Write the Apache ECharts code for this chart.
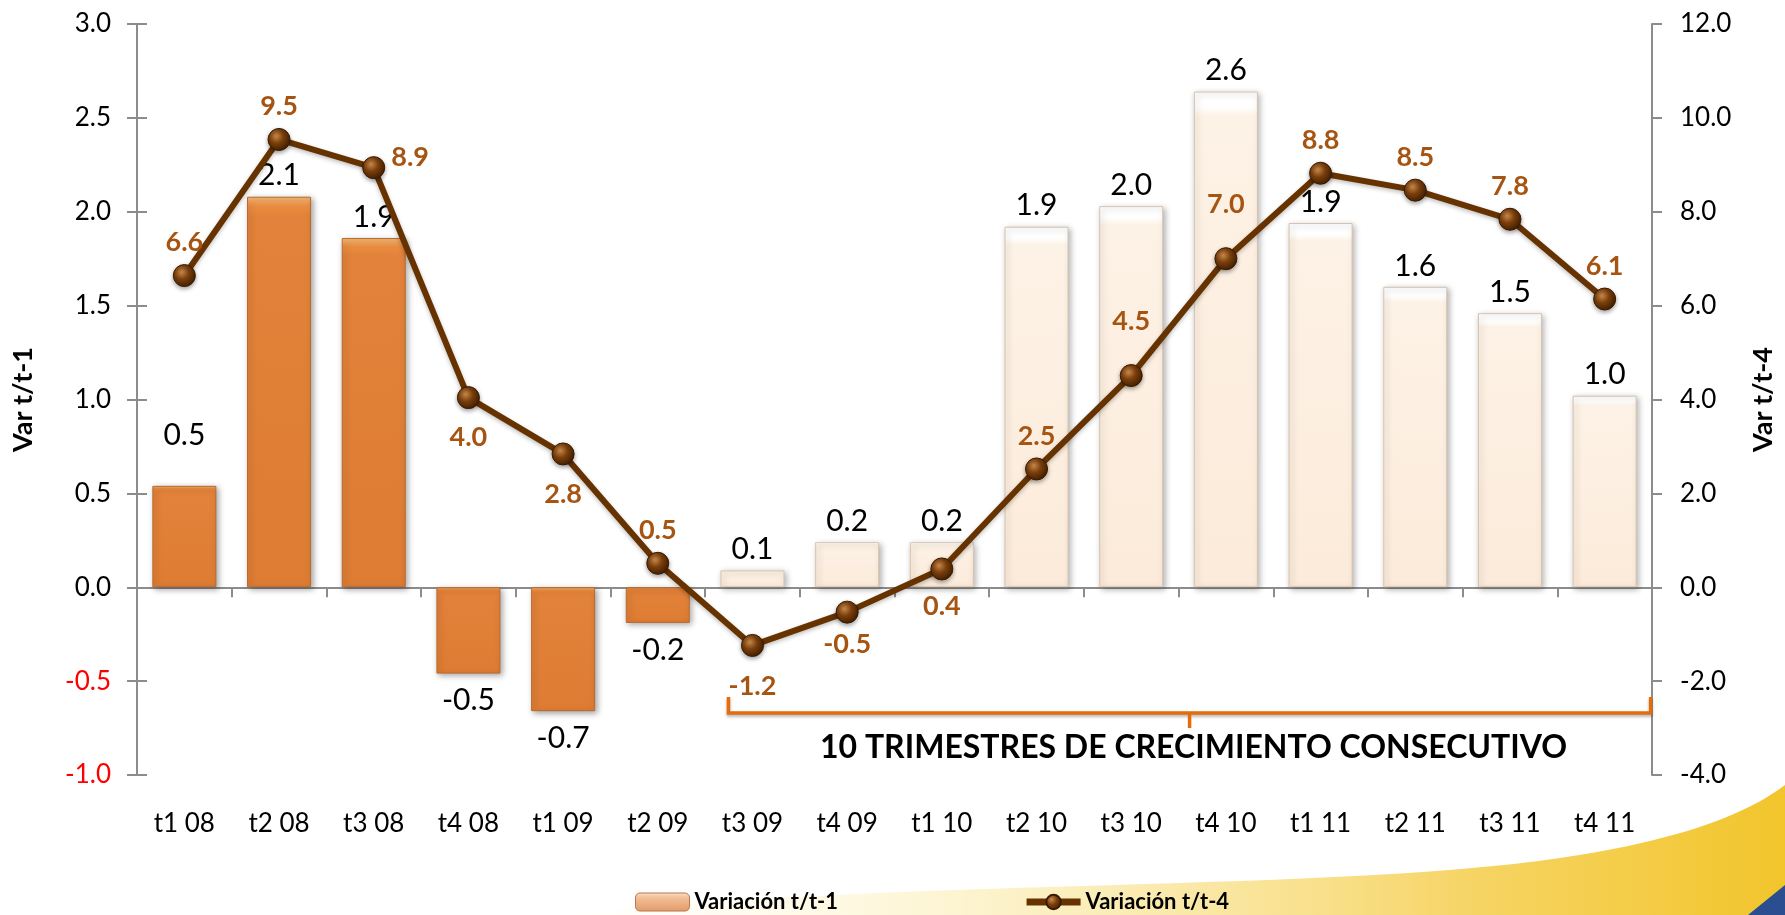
<!DOCTYPE html>
<html>
<head>
<meta charset="utf-8">
<script src="https://cdn.jsdelivr.net/npm/echarts@6/dist/echarts.min.js"></script>
<style>
  html, body { margin: 0; padding: 0; background: #fff; }
  #chart { width: 1785px; height: 915px; }
</style>
</head>
<body>
<div id="chart"></div>
<script>
// datos
const trimestres = ['t1 08', 't2 08', 't3 08', 't4 08', 't1 09', 't2 09', 't3 09', 't4 09',
                    't1 10', 't2 10', 't3 10', 't4 10', 't1 11', 't2 11', 't3 11', 't4 11'];
const variacionT1 = [0.54, 2.08, 1.86, -0.46, -0.66, -0.19, 0.09, 0.24,
                     0.24, 1.92, 2.03, 2.64, 1.94, 1.60, 1.46, 1.02];
const variacionT4 = [6.64, 9.54, 8.94, 4.04, 2.84, 0.51, -1.24, -0.53,
                     0.39, 2.52, 4.51, 7.00, 8.82, 8.46, 7.84, 6.14];
const ticksIzq = { min: -1, max: 3, interval: 0.5 };
const ticksDer = { min: -4, max: 12, interval: 2 };
const textoCrecimiento = '10 TRIMESTRES DE CRECIMIENTO CONSECUTIVO';

const FONT = 'Lato';
const crisisHasta = 6; // las barras naranjas: t1 08 .. t2 09

const naranja = {
  color: new echarts.graphic.LinearGradient(0, 0, 0, 1, [
    { offset: 0, color: '#F7BB78' }, { offset: 0.025, color: '#EA8C40' },
    { offset: 0.05, color: '#E3823A' }, { offset: 1, color: '#DE7C33' }]),
  borderColor: '#B86A2E', borderWidth: 1,
  shadowColor: 'rgba(0,0,0,0.35)', shadowBlur: 6, shadowOffsetX: 2, shadowOffsetY: 2
};
const crema = {
  color: new echarts.graphic.LinearGradient(0, 0, 0, 1, [
    { offset: 0, color: '#FFFFFF' }, { offset: 0.03, color: '#FFFFFF' },
    { offset: 0.05, color: '#FDF2E6' }, { offset: 1, color: '#FCEBDA' }]),
  borderColor: '#D9C3AE', borderWidth: 1,
  shadowColor: 'rgba(0,0,0,0.3)', shadowBlur: 6, shadowOffsetX: 2, shadowOffsetY: 2
};

// etiquetas de la linea: posicion y distancia
const posLinea = ['top', 'top', 'right', 'bottom', 'bottom', 'top', 'bottom', 'bottom',
                  'bottom', 'top', 'top', 'top', 'top', 'top', 'top', 'top'];
const distLinea = [8, 8, 6, 15, 15, 8, 16, 7, 12, 8, 29, 29, 8, 8, 8, 8];

const chart = echarts.init(document.getElementById('chart'));

const axisGray = '#8C8C8C';

chart.setOption({
  backgroundColor: '#fff',
  animation: false,
  grid: { left: 137, right: 127, top: 24, bottom: 140 },
  legend: {
    left: 630, top: 886,
    itemWidth: 54, itemHeight: 18, itemGap: 185,
    textStyle: { fontFamily: FONT, fontWeight: 'bold', fontSize: 22, color: '#000' },
    data: [
      { name: 'Variación t/t-1', itemStyle: {
          color: new echarts.graphic.LinearGradient(0, 0, 0, 1, [
            { offset: 0, color: '#FBE3CC' }, { offset: 0.25, color: '#F2C09A' },
            { offset: 1, color: '#E39A68' }]),
          borderColor: '#B8764A', borderWidth: 1 } },
      { name: 'Variación t/t-4', lineStyle: { width: 7, color: '#663300' } }
    ]
  },
  xAxis: [
    { // eje sobre el cero
      type: 'category', data: trimestres,
      axisLine: { onZero: true, onZeroAxisIndex: 0, lineStyle: { color: axisGray, width: 2 } },
      axisTick: { show: true, length: 10, lineStyle: { color: axisGray, width: 2 } },
      axisLabel: { show: false }
    },
    { // etiquetas abajo
      type: 'category', data: trimestres, position: 'bottom',
      axisLine: { show: false }, axisTick: { show: false },
      axisLabel: { margin: 36, fontFamily: FONT, fontSize: 26, color: '#000' }
    },
    { // ticks hacia arriba
      type: 'category', data: trimestres,
      axisLine: { show: false, onZero: true, onZeroAxisIndex: 0 },
      axisTick: { show: true, inside: true, length: 10, lineStyle: { color: axisGray, width: 2 } },
      axisLabel: { show: false }
    }
  ],
  yAxis: [
    {
      type: 'value', position: 'left', min: ticksIzq.min, max: ticksIzq.max, interval: ticksIzq.interval,
      name: 'Var t/t-1', nameLocation: 'middle', nameGap: 100, nameRotate: 90,
      nameTextStyle: { fontFamily: FONT, fontWeight: 'bold', fontSize: 27, color: '#000' },
      axisLine: { show: true, lineStyle: { color: axisGray, width: 2 } },
      axisTick: { show: true, length: 10, lineStyle: { color: axisGray, width: 2 } },
      splitLine: { show: false },
      axisLabel: {
        margin: 26, fontFamily: FONT, fontSize: 26,
        formatter: v => v.toFixed(1),
        color: v => (v < 0 ? '#FF0000' : '#000')
      }
    },
    {
      type: 'value', position: 'right', min: ticksDer.min, max: ticksDer.max, interval: ticksDer.interval,
      name: 'Var t/t-4', nameLocation: 'middle', nameGap: 98, nameRotate: 90,
      nameTextStyle: { fontFamily: FONT, fontWeight: 'bold', fontSize: 27, color: '#000' },
      axisLine: { show: true, lineStyle: { color: axisGray, width: 2 } },
      axisTick: { show: true, length: 10, lineStyle: { color: axisGray, width: 2 } },
      splitLine: { show: false },
      axisLabel: { margin: 28, fontFamily: FONT, fontSize: 26, color: '#000', formatter: v => v.toFixed(1) }
    },
    { // ticks izquierdos hacia dentro
      type: 'value', position: 'left', min: ticksIzq.min, max: ticksIzq.max, interval: ticksIzq.interval,
      axisLine: { show: false },
      axisTick: { show: true, inside: true, length: 10, lineStyle: { color: axisGray, width: 2 } },
      axisLabel: { show: false }, splitLine: { show: false }
    }
  ],
  series: [
    {
      name: 'Variación t/t-1', type: 'bar', xAxisIndex: 0, yAxisIndex: 0,
      barWidth: 64, z: 2,
      data: variacionT1.map((v, i) => ({
        value: v,
        itemStyle: i < crisisHasta ? naranja : crema,
        label: { position: v < 0 ? 'bottom' : 'top', distance: i === 0 ? 36 : (v < 0 ? 12 : 6) }
      })),
      itemStyle: crema,
      label: {
        show: true, fontFamily: FONT, fontSize: 30, color: '#000',
        formatter: p => p.value.toFixed(1)
      }
    },
    {
      name: 'Variación t/t-4', type: 'line', xAxisIndex: 0, yAxisIndex: 1, z: 4,
      symbol: 'circle', symbolSize: 22,
      lineStyle: { color: '#663300', width: 6, shadowColor: 'rgba(0,0,0,0.25)', shadowBlur: 4, shadowOffsetY: 2 },
      itemStyle: {
        color: new echarts.graphic.RadialGradient(0.38, 0.35, 0.7, [
          { offset: 0, color: '#C8884A' }, { offset: 0.45, color: '#7A3F0C' }, { offset: 1, color: '#3E1D00' }]),
        borderColor: '#3A1A00', borderWidth: 1,
        shadowColor: 'rgba(0,0,0,0.35)', shadowBlur: 4, shadowOffsetY: 2
      },
      data: variacionT4.map((v, i) => ({
        value: v,
        label: { position: posLinea[i], distance: distLinea[i], offset: posLinea[i] === 'right' ? [0, -10] : [0, 0] }
      })),
      label: {
        show: true, fontFamily: FONT, fontWeight: 'bold', fontSize: 27, color: '#A65412',
        formatter: p => p.value.toFixed(1)
      }
    }
  ]
});

// curva bezier cubica muestreada (para el fondo decorativo)
function bezier(p0, p1, p2, p3, n) {
  const pts = [];
  for (let k = 0; k <= n; k++) {
    const t = k / n, u = 1 - t;
    pts.push([
      u * u * u * p0[0] + 3 * u * u * t * p1[0] + 3 * u * t * t * p2[0] + t * t * t * p3[0],
      u * u * u * p0[1] + 3 * u * u * t * p1[1] + 3 * u * t * t * p2[1] + t * t * t * p3[1]
    ]);
  }
  return pts;
}

// llave de "10 trimestres" y fondo decorativo
function dibujarAnotacion() {
  const cat = chart.convertToPixel({ xAxisIndex: 0 }, trimestres[6]);
  const xEje = chart.convertToPixel({ xAxisIndex: 0 }, trimestres[15]) + 47;
  const y = chart.convertToPixel({ yAxisIndex: 1 }, -2.68);
  const x0 = cat - 24, x1 = xEje - 1, xm = (x0 + x1) / 2;

  const borde = bezier([560, 915], [900, 878], [1330, 892], [1560, 858], 30)
    .concat(bezier([1560, 858], [1680, 840], [1745, 815], [1785, 785], 20).slice(1));
  const swoosh = borde.concat([[1785, 915]]);

  chart.setOption({
    graphic: [
      {
        type: 'polygon', z: -10, silent: true,
        shape: { points: swoosh },
        style: { fill: new echarts.graphic.LinearGradient(0, 0, 1, 0, [
          { offset: 0, color: 'rgba(255,246,205,0)' }, { offset: 0.35, color: 'rgba(250,232,160,0.55)' },
          { offset: 0.75, color: '#F6D463' }, { offset: 1, color: '#F2C52C' }]) }
      },
      {
        type: 'polygon', z: -9, silent: true,
        shape: { points: [[1748, 915], [1785, 885], [1785, 915]] },
        style: { fill: '#2A4E8F' }
      },
      {
        type: 'polyline', z: 10, silent: true,
        shape: { points: [[x0, y - 16], [x0, y], [x1, y], [x1, y - 16]] },
        style: { stroke: '#E46C0A', lineWidth: 3.5, fill: null, shadowColor: 'rgba(0,0,0,0.3)', shadowBlur: 3, shadowOffsetY: 2 }
      },
      {
        type: 'line', z: 10, silent: true,
        shape: { x1: xm, y1: y, x2: xm, y2: y + 15 },
        style: { stroke: '#E46C0A', lineWidth: 3.5 }
      },
      {
        type: 'text', z: 10, silent: true,
        x: xm + 4, y: y + 35,
        style: { text: textoCrecimiento, fontFamily: FONT, fontWeight: 'bold', fontSize: 32,
                 fill: '#000', align: 'center', verticalAlign: 'middle' }
      }
    ]
  });
}
dibujarAnotacion();
</script>
</body>
</html>
